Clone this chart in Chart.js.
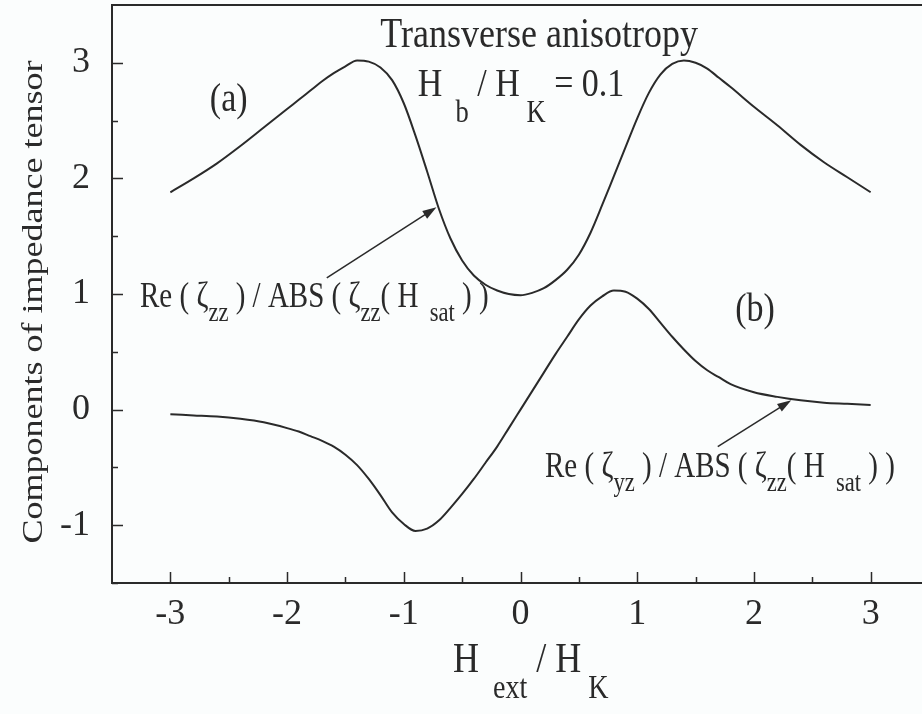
<!DOCTYPE html>
<html>
<head>
<meta charset="utf-8">
<script src="https://cdn.jsdelivr.net/npm/chart.js@4.4.1/dist/chart.umd.min.js"></script>
<style>
  html, body { margin: 0; padding: 0; background: #fbfdfd; overflow: hidden; }
  canvas { display: block; }
</style>
</head>
<body>
<canvas id="chart" width="940" height="714"></canvas>
<script>
// H_ext / H_K sample points (same for both curves)
const field = [-3, -2.8, -2.6, -2.4, -2.2, -2, -1.9, -1.8, -1.7, -1.6, -1.5, -1.4, -1.3, -1.2, -1.1, -1, -0.9, -0.8, -0.7, -0.6, -0.5, -0.4, -0.3, -0.2, -0.1,
  0, 0.1, 0.2, 0.3, 0.4, 0.5, 0.6, 0.7, 0.8, 0.9, 1, 1.1, 1.2, 1.3, 1.4, 1.5, 1.6, 1.7, 1.8, 2, 2.2, 2.4, 2.6, 2.8, 3];

// (a) Re(zeta_zz)/ABS(zeta_zz(Hsat))
const zetaZZ = [1.88, 2.00, 2.13, 2.28, 2.44, 2.60, 2.68, 2.76, 2.84, 2.91, 2.97, 3.02, 3.01, 2.96, 2.85, 2.65, 2.37, 2.06, 1.74, 1.48, 1.29, 1.16, 1.08, 1.03, 1.00,
  0.99, 1.01, 1.05, 1.12, 1.21, 1.34, 1.53, 1.77, 2.02, 2.27, 2.52, 2.74, 2.90, 2.99, 3.02, 3.00, 2.95, 2.87, 2.79, 2.62, 2.46, 2.29, 2.14, 2.01, 1.88];

// (b) Re(zeta_yz)/ABS(zeta_zz(Hsat))
const zetaYZ = [-0.04, -0.05, -0.06, -0.08, -0.11, -0.16, -0.19, -0.23, -0.27, -0.32, -0.39, -0.48, -0.60, -0.74, -0.89, -0.99, -1.05, -1.03, -0.96, -0.85, -0.73, -0.60, -0.46, -0.32, -0.16,
  0.00, 0.16, 0.32, 0.48, 0.63, 0.78, 0.90, 0.98, 1.03, 1.02, 0.96, 0.87, 0.75, 0.63, 0.52, 0.42, 0.34, 0.28, 0.22, 0.15, 0.11, 0.08, 0.06, 0.05, 0.04];

const xTicks = [-3, -2, -1, 0, 1, 2, 3];
const yTicks = [-1, 0, 1, 2, 3];

// arrows pointing at the curves, [x, y] in data units
const arrowA = [[-1.66, 1.14], [-0.72, 1.75]];
const arrowB = [[1.69, -0.32], [2.32, 0.08]];

const ink = '#2a2a2a';
const serif = '"Liberation Serif", "Times New Roman", serif';
const STRETCH = 1.2;

function toPoints(xs, ys) {
  return xs.map((x, i) => ({ x: x, y: ys[i] }));
}

// draws a run of text pieces, some of them subscripts
function drawRich(ctx, parts, x, y, size, opts) {
  opts = opts || {};
  const subSize = size * (opts.subScale || 0.78);
  const drop = size * (opts.drop || 0.5);
  let w = 0;
  parts.forEach(p => {
    ctx.font = (p.sub ? subSize : size) + 'px ' + serif;
    w += ctx.measureText(p.t).width;
  });
  let cx = opts.align === 'center' ? -w / 2 : 0;
  ctx.save();
  ctx.translate(x, y);
  if (opts.rotate) ctx.rotate(opts.rotate);
  if (opts.rotate) ctx.scale(STRETCH, 1); else ctx.scale(1, STRETCH);
  ctx.fillStyle = ink;
  ctx.textBaseline = 'alphabetic';
  ctx.textAlign = 'left';
  parts.forEach(p => {
    ctx.font = (p.sub ? subSize : size) + 'px ' + serif;
    ctx.fillText(p.t, cx, p.sub ? drop : 0);
    cx += ctx.measureText(p.t).width;
  });
  ctx.restore();
}

function drawArrow(ctx, xs, ys, arrow) {
  const x0 = xs.getPixelForValue(arrow[0][0]), y0 = ys.getPixelForValue(arrow[0][1]);
  const x1 = xs.getPixelForValue(arrow[1][0]), y1 = ys.getPixelForValue(arrow[1][1]);
  const ang = Math.atan2(y1 - y0, x1 - x0);
  ctx.beginPath();
  ctx.moveTo(x0, y0);
  ctx.lineTo(x1 - 8 * Math.cos(ang), y1 - 8 * Math.sin(ang));
  ctx.stroke();
  ctx.beginPath();
  ctx.moveTo(x1, y1);
  ctx.lineTo(x1 - 14 * Math.cos(ang) + 4.5 * Math.sin(ang), y1 - 14 * Math.sin(ang) - 4.5 * Math.cos(ang));
  ctx.lineTo(x1 - 14 * Math.cos(ang) - 4.5 * Math.sin(ang), y1 - 14 * Math.sin(ang) + 4.5 * Math.cos(ang));
  ctx.closePath();
  ctx.fill();
}

const decorPlugin = {
  id: 'decor',
  beforeDraw(chart) {
    const ctx = chart.ctx;
    ctx.save();
    ctx.fillStyle = '#fbfdfd';
    ctx.fillRect(0, 0, chart.width, chart.height);
    ctx.restore();
  },
  afterDraw(chart) {
    const { ctx, chartArea: a, scales: { x, y } } = chart;
    ctx.save();
    ctx.strokeStyle = ink;
    ctx.fillStyle = ink;

    // frame
    ctx.lineWidth = 2;
    ctx.strokeRect(a.left, a.top, a.right - a.left, a.bottom - a.top);

    // inward ticks, major every 1, minor every 0.5
    ctx.lineWidth = 1.5;
    ctx.beginPath();
    for (let v = -3; v <= 3.001; v += 0.5) {
      const px = Math.round(x.getPixelForValue(v)) + 0.5;
      const len = Number.isInteger(v) ? 11 : 6;
      ctx.moveTo(px, a.bottom);
      ctx.lineTo(px, a.bottom - len);
    }
    for (let v = -1.5; v <= 3.001; v += 0.5) {
      const py = Math.round(y.getPixelForValue(v)) + 0.5;
      const len = Number.isInteger(v) ? 11 : 6;
      ctx.moveTo(a.left, py);
      ctx.lineTo(a.left + len, py);
    }
    ctx.stroke();

    // arrows
    ctx.lineWidth = 1.5;
    drawArrow(ctx, x, y, arrowA);
    drawArrow(ctx, x, y, arrowB);

    // annotations
    drawRich(ctx, [{ t: 'Transverse anisotropy' }], x.getPixelForValue(0.16), y.getPixelForValue(3.14), 36, { align: 'center' });
    drawRich(ctx, [{ t: 'H' }, { t: '  b', sub: true }, { t: ' / H' }, { t: ' K', sub: true }, { t: ' = 0.1' }],
      x.getPixelForValue(-0.88), y.getPixelForValue(2.71), 34, { drop: 0.62 });
    drawRich(ctx, [{ t: '(a)' }], x.getPixelForValue(-2.5), y.getPixelForValue(2.58), 34, { align: 'center' });
    drawRich(ctx, [{ t: '(b)' }], x.getPixelForValue(2.01), y.getPixelForValue(0.77), 34, { align: 'center' });
    drawRich(ctx, [{ t: 'Re ( \u03B6' }, { t: 'zz', sub: true }, { t: ' ) / ABS ( \u03B6' }, { t: 'zz', sub: true }, { t: '( H' }, { t: '  sat', sub: true }, { t: ' ) )' }],
      x.getPixelForValue(-3.26), y.getPixelForValue(0.89), 29, { drop: 0.42 });
    drawRich(ctx, [{ t: 'Re ( \u03B6' }, { t: 'yz', sub: true }, { t: ' ) / ABS ( \u03B6' }, { t: 'zz', sub: true }, { t: '( H' }, { t: '  sat', sub: true }, { t: ' ) )' }],
      x.getPixelForValue(0.21), y.getPixelForValue(-0.58), 29, { drop: 0.42 });

    // axis titles
    drawRich(ctx, [{ t: 'H' }, { t: '  ext', sub: true }, { t: ' / H' }, { t: ' K', sub: true }], 453, 672, 36, { drop: 0.6 });
    drawRich(ctx, [{ t: 'Components of impedance tensor' }], 42, (a.top + a.bottom) / 2 + 8, 30, { align: 'center', rotate: -Math.PI / 2 });
    ctx.restore();
  }
};

const lineStyle = {
  showLine: true,
  borderColor: ink,
  borderWidth: 2,
  pointRadius: 0,
  fill: false,
  cubicInterpolationMode: 'monotone'
};

new Chart(document.getElementById('chart'), {
  type: 'scatter',
  data: {
    datasets: [
      Object.assign({ label: 'Re(zeta_zz)', data: toPoints(field, zetaZZ) }, lineStyle),
      Object.assign({ label: 'Re(zeta_yz)', data: toPoints(field, zetaYZ) }, lineStyle)
    ]
  },
  options: {
    responsive: false,
    animation: false,
    layout: { padding: { left: 0, top: 5, right: 11, bottom: 0 } },
    plugins: { legend: { display: false }, tooltip: { enabled: false } },
    scales: {
      x: {
        type: 'linear',
        min: -3.5,
        max: 3.5,
        afterBuildTicks: s => { s.ticks = xTicks.map(v => ({ value: v })); },
        afterFit: s => { s.height = 131; s.paddingLeft = 0; s.paddingRight = 0; },
        grid: { drawOnChartArea: false, drawTicks: false, color: 'transparent' },
        border: { display: false },
        ticks: { color: ink, font: { family: serif, size: 36 }, padding: 10, maxRotation: 0 }
      },
      y: {
        type: 'linear',
        min: -1.5,
        max: 3.5,
        afterBuildTicks: s => { s.ticks = yTicks.map(v => ({ value: v })); },
        afterFit: s => { s.width = 112; s.paddingTop = 0; s.paddingBottom = 0; },
        grid: { drawOnChartArea: false, drawTicks: false, color: 'transparent' },
        border: { display: false },
        ticks: { color: ink, font: { family: serif, size: 36 }, padding: 22 }
      }
    }
  },
  plugins: [decorPlugin]
});
</script>
</body>
</html>
